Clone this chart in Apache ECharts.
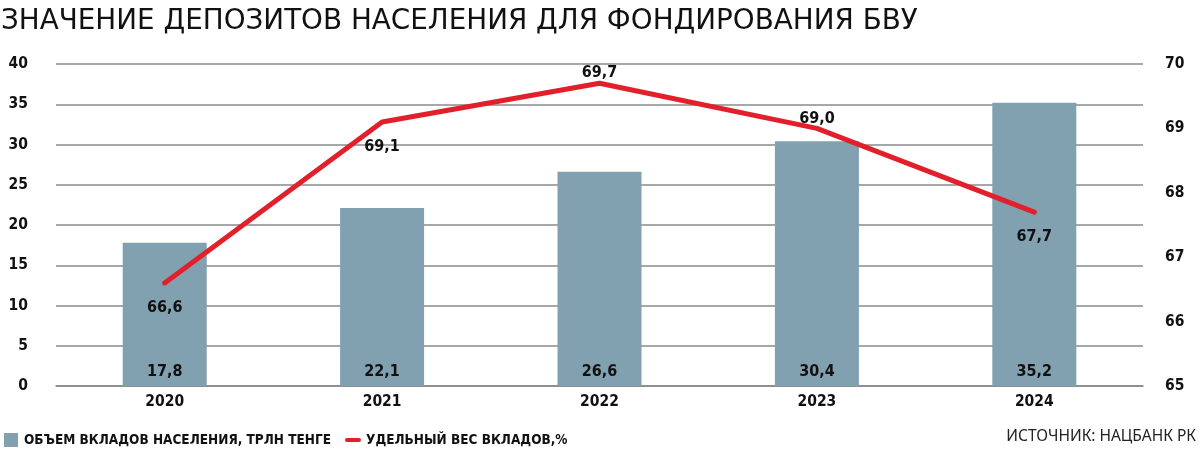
<!DOCTYPE html>
<html><head><meta charset="utf-8">
<script src="https://cdn.jsdelivr.net/npm/echarts@6/dist/echarts.min.js"></script>
<style>html,body{margin:0;padding:0;background:#fff}#c{width:1200px;height:468px}</style>
</head><body><div id="c"></div>
<script>
var years = ['2020','2021','2022','2023','2024'];
var deposits = [17.8, 22.1, 26.6, 30.4, 35.2];
var share = [66.6, 69.1, 69.7, 69.0, 67.7];
var sharePos = ['bottom','bottom','top','top','bottom'];
var leftTicks = [0, 40, 5];
var rightTicks = [65, 70, 1];

var cond = '"DejaVu Sans Condensed", "Liberation Sans Narrow", sans-serif';
var fmt = function (v) { return v.toFixed(1).replace('.', ','); };

var chart = echarts.init(document.getElementById('c'), null, {renderer: 'canvas'});
chart.setOption({
  animation: false,
  backgroundColor: '#fff',
  title: {
    text: 'ЗНАЧЕНИЕ ДЕПОЗИТОВ НАСЕЛЕНИЯ ДЛЯ ФОНДИРОВАНИЯ БВУ',
    left: -4, top: 3,
    textStyle: {fontFamily: '"DejaVu Sans", sans-serif', fontWeight: 'normal', fontSize: 27.8, color: '#111'}
  },
  graphic: [{
    type: 'text', right: 4, top: 429,
    style: {text: 'ИСТОЧНИК: НАЦБАНК РК', font: '15.5px "Noto Sans", sans-serif', fill: '#222'}
  }],
  legend: {
    left: -1, top: 428, itemGap: 14, itemWidth: 16, itemHeight: 14,
    textStyle: {fontFamily: cond, fontWeight: 'bold', fontSize: 13.5, color: '#111'},
    data: [
      {name: 'ОБЪЕМ ВКЛАДОВ НАСЕЛЕНИЯ, ТРЛН ТЕНГЕ', icon: 'path://M0,0h12v12h-12z'},
      {name: 'УДЕЛЬНЫЙ ВЕС ВКЛАДОВ,%', icon: 'path://M2,0h12a2,2 0 0 1 0,4h-12a2,2 0 0 1 0,-4z', itemStyle: {color: '#e2202c'}}
    ]
  },
  grid: {left: 56, right: 57, top: 64, bottom: 82},
  xAxis: {
    type: 'category', data: years,
    axisLine: {lineStyle: {color: '#888', width: 1.5}},
    axisTick: {show: false},
    axisLabel: {fontFamily: cond, fontWeight: 'bold', fontSize: 15.5, color: '#111', margin: 8}
  },
  yAxis: [{
    type: 'value', min: leftTicks[0], max: leftTicks[1], interval: leftTicks[2],
    axisLine: {show: false}, axisTick: {show: false},
    axisLabel: {fontFamily: cond, fontWeight: 'bold', fontSize: 15.5, color: '#111', margin: 28},
    splitLine: {lineStyle: {color: '#8a8a8a', width: 1.5}}
  }, {
    type: 'value', min: rightTicks[0], max: rightTicks[1], interval: rightTicks[2],
    axisLine: {show: false}, axisTick: {show: false},
    axisLabel: {fontFamily: cond, fontWeight: 'bold', fontSize: 15.5, color: '#111', margin: 22},
    splitLine: {show: false}
  }],
  series: [{
    name: 'ОБЪЕМ ВКЛАДОВ НАСЕЛЕНИЯ, ТРЛН ТЕНГЕ',
    type: 'bar', data: deposits, barWidth: 84,
    itemStyle: {color: '#81a0b0'},
    label: {
      show: true, position: 'insideBottom', distance: 6,
      fontFamily: cond, fontWeight: 'bold', fontSize: 16, color: '#111',
      formatter: function (p) { return fmt(p.value); }
    },
    z: 2
  }, {
    name: 'УДЕЛЬНЫЙ ВЕС ВКЛАДОВ,%',
    type: 'line', yAxisIndex: 1,
    data: share.map(function (v, i) {
      return {value: v, label: {position: sharePos[i], distance: sharePos[i] === 'top' ? 2 : 17}};
    }),
    symbol: 'circle', symbolSize: 0.1, showSymbol: true,
    lineStyle: {color: '#e2202c', width: 5, cap: 'round'},
    itemStyle: {color: '#e2202c'},
    label: {
      show: true,
      fontFamily: cond, fontWeight: 'bold', fontSize: 16, color: '#111',
      formatter: function (p) { return fmt(p.value); }
    },
    z: 3
  }]
});
</script></body></html>
